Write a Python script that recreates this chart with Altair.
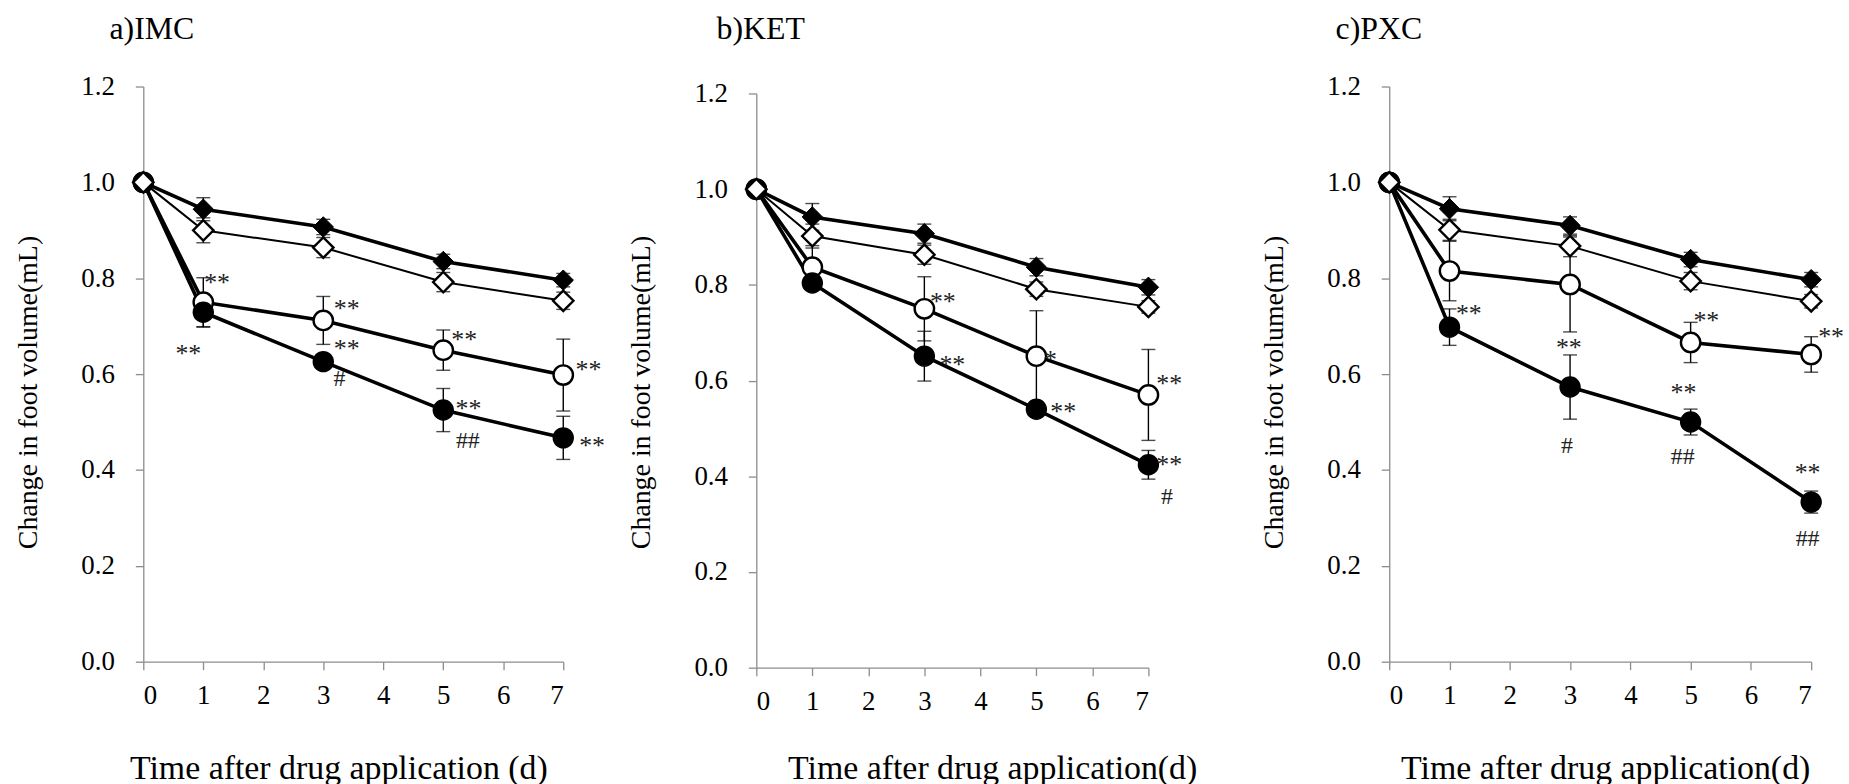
import altair as alt
import pandas as pd

FONT = "Liberation Serif"

days = [0, 1, 3, 5, 7]

# ---------- a) IMC ----------
imc_filled_diamond = [1.0, 0.944, 0.907, 0.835, 0.796]
imc_filled_diamond_sd = [0, 0.024, 0.016, 0.015, 0.014]
imc_open_diamond = [1.0, 0.900, 0.864, 0.792, 0.753]
imc_open_diamond_sd = [0, 0.026, 0.021, 0.020, 0.018]
imc_open_circle = [1.0, 0.750, 0.712, 0.650, 0.598]
imc_open_circle_sd = [0, 0.051, 0.050, 0.042, 0.075]
imc_filled_circle = [1.0, 0.729, 0.626, 0.525, 0.467]
imc_filled_circle_sd = [0, 0.031, 0.010, 0.045, 0.045]
imc_ann_text = ["**", "**", "**", "**", "#", "**", "**", "##", "**", "**"]
imc_ann_x = [1.23, 0.75, 3.39, 3.39, 3.27, 5.35, 5.42, 5.41, 7.42, 7.48]
imc_ann_y = [0.800, 0.653, 0.746, 0.663, 0.590, 0.682, 0.538, 0.460, 0.618, 0.460]

# ---------- b) KET ----------
ket_filled_diamond = [1.0, 0.942, 0.907, 0.837, 0.795]
ket_filled_diamond_sd = [0, 0.028, 0.020, 0.018, 0.016]
ket_open_diamond = [1.0, 0.902, 0.863, 0.791, 0.754]
ket_open_diamond_sd = [0, 0.025, 0.020, 0.015, 0.013]
ket_open_circle = [1.0, 0.837, 0.750, 0.651, 0.570]
ket_open_circle_sd = [0, 0.045, 0.067, 0.095, 0.095]
ket_filled_circle = [1.0, 0.804, 0.651, 0.540, 0.424]
ket_filled_circle_sd = [0, 0.010, 0.052, 0.010, 0.030]
ket_ann_text = ["**", "**", "*", "**", "**", "**", "#"]
ket_ann_x = [3.33, 3.50, 5.25, 5.48, 7.37, 7.37, 7.33]
ket_ann_y = [0.775, 0.643, 0.653, 0.544, 0.604, 0.434, 0.357]

# ---------- c) PXC ----------
pxc_filled_diamond = [1.0, 0.945, 0.910, 0.839, 0.797]
pxc_filled_diamond_sd = [0, 0.025, 0.018, 0.015, 0.015]
pxc_open_diamond = [1.0, 0.901, 0.867, 0.794, 0.752]
pxc_open_diamond_sd = [0, 0.022, 0.022, 0.018, 0.014]
pxc_open_circle = [1.0, 0.815, 0.787, 0.666, 0.641]
pxc_open_circle_sd = [0, 0.062, 0.099, 0.042, 0.037]
pxc_filled_circle = [1.0, 0.698, 0.573, 0.500, 0.333]
pxc_filled_circle_sd = [0, 0.038, 0.067, 0.027, 0.023]
pxc_ann_text = ["**", "**", "#", "**", "**", "##", "**", "**", "##"]
pxc_ann_x = [1.32, 2.98, 2.95, 5.26, 4.88, 4.87, 7.33, 6.94, 6.94]
pxc_ann_y = [0.735, 0.664, 0.450, 0.721, 0.570, 0.427, 0.687, 0.404, 0.256]

y_ticks = [0.0, 0.2, 0.4, 0.6, 0.8, 1.0, 1.2]
x_ticks = [0, 1, 2, 3, 4, 5, 6, 7]


def build_panel(title, title_dx, title_offset, xtitle, xtitle_x, xtitle_pad, width, height,
                xrange, yrange,
                fd, fd_sd, od, od_sd, oc, oc_sd, fc, fc_sd, ann_t, ann_x, ann_y):
    xscale = alt.Scale(domain=[0, 7], nice=False, zero=False, range=xrange) if xrange else \
        alt.Scale(domain=[0, 7], nice=False, zero=False)
    X = alt.X("day:Q", scale=xscale,
              axis=alt.Axis(values=x_ticks, title=xtitle, format="d",
                            labelPadding=13, titlePadding=xtitle_pad, titleFontSize=34,
                            titleX=xtitle_x))
    yscale = alt.Scale(domain=[0, 1.2], nice=False, range=yrange) if yrange else \
        alt.Scale(domain=[0, 1.2], nice=False)
    Y = alt.Y("val:Q", scale=yscale,
              axis=alt.Axis(values=y_ticks, format=".1f", title="Change in foot volume(mL)",
                            labelPadding=21, titlePadding=39, titleFontSize=28, titleY=307))

    series = {
        "fd": (fd, fd_sd), "od": (od, od_sd), "oc": (oc, oc_sd), "fc": (fc, fc_sd)
    }
    dfs = {k: pd.DataFrame({"day": days, "val": v, "sd": s}) for k, (v, s) in series.items()}

    layers = []
    line_w = {"fd": 3.6, "od": 2.0, "oc": 3.6, "fc": 3.6}
    for k in ["fd", "od", "oc", "fc"]:
        layers.append(alt.Chart(dfs[k]).mark_line(color="black", strokeWidth=line_w[k])
                      .encode(x=X, y=Y))
    # error bars
    for k in ["fd", "od", "oc", "fc"]:
        d = dfs[k][dfs[k]["sd"] > 0].copy()
        rule_df = pd.DataFrame({"day": d["day"], "val": d["val"] - d["sd"],
                                "val2": d["val"] + d["sd"]})
        cap_df = pd.concat([
            pd.DataFrame({"day": d["day"], "val": d["val"] - d["sd"]}),
            pd.DataFrame({"day": d["day"], "val": d["val"] + d["sd"]}),
        ])
        layers.append(alt.Chart(rule_df).mark_rule(color="black", strokeWidth=1.4)
                      .encode(x=X, y=Y, y2="val2"))
        layers.append(alt.Chart(cap_df).mark_tick(color="black", orient="horizontal",
                                                  size=14, thickness=1.4)
                      .encode(x=X, y=Y))
    # markers
    layers.append(alt.Chart(dfs["fd"]).mark_point(shape="diamond", filled=True, fill="black",
                                                  stroke="black", strokeWidth=1, size=420,
                                                  opacity=1).encode(x=X, y=Y))
    layers.append(alt.Chart(dfs["oc"]).mark_point(shape="circle", filled=True, fill="white",
                                                  stroke="black", strokeWidth=2.4, size=380,
                                                  opacity=1).encode(x=X, y=Y))
    layers.append(alt.Chart(dfs["fc"]).mark_point(shape="circle", filled=True, fill="black",
                                                  stroke="black", strokeWidth=1.5, size=400,
                                                  opacity=1).encode(x=X, y=Y))
    layers.append(alt.Chart(dfs["od"]).mark_point(shape="diamond", filled=True, fill="white",
                                                  stroke="black", strokeWidth=2.4, size=420,
                                                  opacity=1).encode(x=X, y=Y))
    # annotations
    ann = pd.DataFrame({"day": ann_x, "val": ann_y, "txt": ann_t})
    star = ann[ann["txt"].str.contains(r"\*")]
    hashes = ann[~ann["txt"].str.contains(r"\*")]
    layers.append(alt.Chart(star).mark_text(font=FONT, fontSize=26, color="#222",
                                            baseline="middle", align="center", dy=5)
                  .encode(x=X, y=Y, text="txt:N"))
    layers.append(alt.Chart(hashes).mark_text(font=FONT, fontSize=24, color="#222",
                                              baseline="middle", align="center")
                  .encode(x=X, y=Y, text="txt:N"))

    return alt.layer(*layers).properties(
        width=width, height=height,
        title=alt.TitleParams(title, anchor="start", frame="group", dx=title_dx,
                              offset=title_offset, baseline="alphabetic",
                              font=FONT, fontSize=32, fontWeight="normal", color="black"),
    )


pa = build_panel("a)IMC", -34, 2, "Time after drug application (d)", 196, 43, 422, 578, None, None,
                 imc_filled_diamond, imc_filled_diamond_sd, imc_open_diamond, imc_open_diamond_sd,
                 imc_open_circle, imc_open_circle_sd, imc_filled_circle, imc_filled_circle_sd,
                 imc_ann_text, imc_ann_x, imc_ann_y)
pb = build_panel("b)KET", -40, 9, "Time after drug application(d)", 237, 37, 442, 584, [0, 394], [584, 7],
                 ket_filled_diamond, ket_filled_diamond_sd, ket_open_diamond, ket_open_diamond_sd,
                 ket_open_circle, ket_open_circle_sd, ket_filled_circle, ket_filled_circle_sd,
                 ket_ann_text, ket_ann_x, ket_ann_y)
pc = build_panel("c)PXC", -54, 2, "Time after drug application(d)", 217, 43, 424, 578, None, None,
                 pxc_filled_diamond, pxc_filled_diamond_sd, pxc_open_diamond, pxc_open_diamond_sd,
                 pxc_open_circle, pxc_open_circle_sd, pxc_filled_circle, pxc_filled_circle_sd,
                 pxc_ann_text, pxc_ann_x, pxc_ann_y)

chart = alt.hconcat(pa, pb, pc, spacing=194, bounds="flush").properties(
    padding={"left": 14, "top": 11, "right": 5, "bottom": 5},
    background="white",
).configure_axis(
    domainColor="#8c8c8c", tickColor="#8c8c8c", domainWidth=1.3, tickWidth=1.3, tickSize=8,
    labelFont=FONT, labelFontSize=27, labelColor="black",
    titleFont=FONT, titleFontWeight="normal", titleColor="black", grid=False,
).configure_view(stroke=None)

chart.save("out.html", embed_options={"renderer": "svg", "actions": False})
